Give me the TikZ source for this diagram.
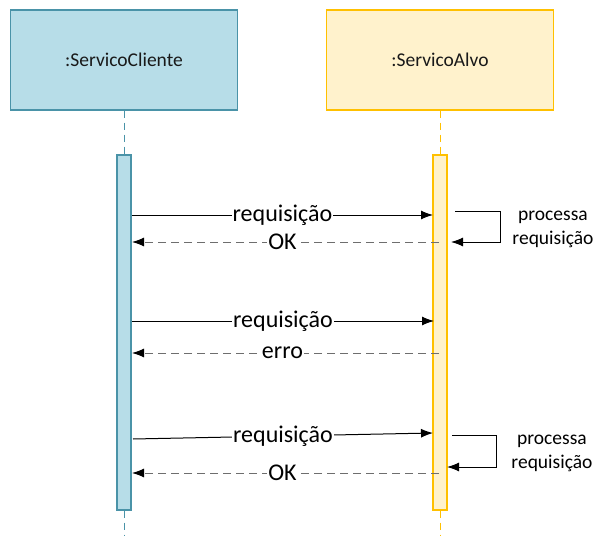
\documentclass[tikz,border=0pt]{standalone}
\usepackage{fontspec}
\setmainfont{Carlito}
\usetikzlibrary{arrows.meta}
\definecolor{cfill}{HTML}{B7DDE8}
\definecolor{cdraw}{HTML}{4A93A8}
\definecolor{afill}{HTML}{FFF2CC}
\definecolor{adraw}{HTML}{FFC000}
\definecolor{retgray}{HTML}{6E6E6E}
\tikzset{
  lifebox/.style={rectangle, line width=1.5pt, minimum width=227pt, minimum height=100pt, inner sep=0pt, text=black!90, font=\fontsize{19.5}{23}\selectfont},
  actbar/.style={rectangle, line width=1.2pt, minimum width=14pt, minimum height=355pt, inner sep=0pt},
  lifeline/.style={line width=1pt, dash pattern=on 7pt off 5pt},
  msg/.style={line width=1pt, -{Latex[length=12pt,width=9pt]}},
  ret/.style={line width=1pt, retgray, dash pattern=on 8pt off 5pt, -{Latex[length=12pt,width=9pt,color=black,fill=black]}},
  mlabel/.style={fill=white, text=black, inner sep=1pt, font=\fontsize{24}{28}\selectfont},
  slabel/.style={align=center, font=\fontsize{19.5}{24}\selectfont},
}
\begin{document}
\begin{tikzpicture}[x=1pt,y=-1pt]
\useasboundingbox (0,0) rectangle (614,543);
% lifeline heads
\node[lifebox, fill=cfill, draw=cdraw] (cli) at (124,60) {:ServicoCliente};
\node[lifebox, fill=afill, draw=adraw] (alv) at (440,60) {:ServicoAlvo};
% activation bars
\node[actbar, fill=cfill, draw=cdraw] (acli) at (124,332.5) {};
\node[actbar, fill=afill, draw=adraw] (aalv) at (440,332.5) {};
% lifelines
\coordinate (cliend) at (124,536);
\coordinate (alvend) at (440,536);
\draw[lifeline, cdraw] (cli.south) -- (acli.north);
\draw[lifeline, cdraw] (acli.south) -- (cliend);
\draw[lifeline, adraw] (alv.south) -- (aalv.north);
\draw[lifeline, adraw] (aalv.south) -- (alvend);
% message coordinates
\coordinate (m1s) at (132,215);   \coordinate (m1e) at (433,215);
\coordinate (r1s) at (439,242);   \coordinate (r1e) at (132,242);
\coordinate (m2s) at (132,321);   \coordinate (m2e) at (434,321);
\coordinate (r2s) at (439,353);   \coordinate (r2e) at (132,353);
\coordinate (m3s) at (133,439);   \coordinate (m3e) at (433,433);
\coordinate (r3s) at (439,473);   \coordinate (r3e) at (132,473);
\coordinate (s1a) at (455,211.5); \coordinate (s1b) at (500,211.5);
\coordinate (s1c) at (500,242);   \coordinate (s1d) at (451,242);
\coordinate (s2a) at (452,435.5); \coordinate (s2b) at (496,435.5);
\coordinate (s2c) at (496,467);   \coordinate (s2d) at (447,467);
% messages
\draw[msg] (m1s) -- node[mlabel, pos=0.5] {requisição} (m1e);
\draw[ret] (r1s) -- node[mlabel, pos=0.51] {OK} (r1e);
\draw[msg] (m2s) -- node[mlabel, pos=0.5] {requisição} (m2e);
\draw[ret] (r2s) -- node[mlabel, pos=0.51] {erro} (r2e);
\draw[msg] (m3s) -- node[mlabel, pos=0.5] {requisição} (m3e);
\draw[ret] (r3s) -- node[mlabel, pos=0.51] {OK} (r3e);
% self messages
\draw[msg] (s1a) -- (s1b) -- (s1c) -- (s1d);
\draw[msg] (s2a) -- (s2b) -- (s2c) -- (s2d);
\node[slabel] (p1) at (553,229) {processa\\requisição};
\node[slabel] (p2) at (552,453) {processa\\requisição};
\end{tikzpicture}
\end{document}
